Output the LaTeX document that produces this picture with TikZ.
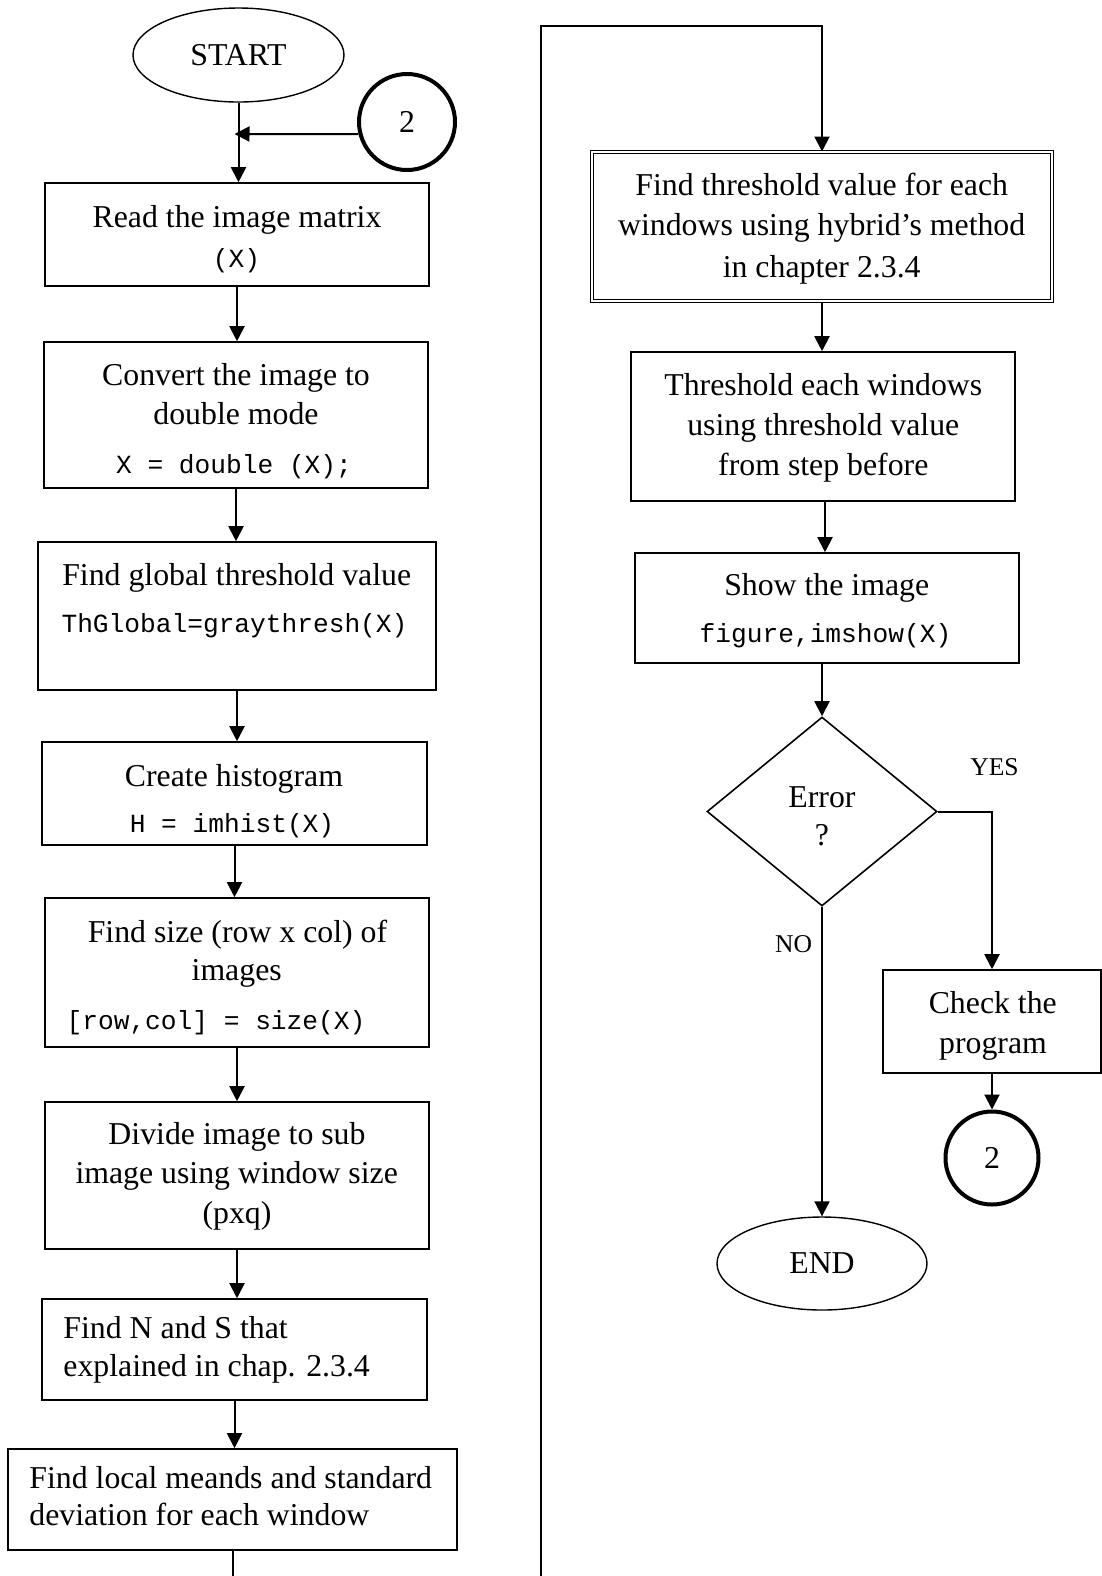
\documentclass[tikz,border=0pt]{standalone}
\usepackage{fontspec}
\setmainfont{Liberation Serif}
\setmonofont{Liberation Mono}
\usetikzlibrary{shapes.geometric,arrows.meta}

\newcommand\mainsz{\fontsize{15.9pt}{19.75pt}\selectfont}
\newcommand\codesz{\fontsize{13.1pt}{16pt}\selectfont\ttfamily}
\newcommand\lblsz{\fontsize{12.8pt}{15pt}\selectfont}

\tikzset{
  proc/.style={draw, line width=0.8pt, rectangle, inner sep=0pt},
  term/.style={draw, line width=0.7pt, ellipse, inner sep=0pt, font=\mainsz},
  conn/.style={draw, line width=2pt, circle, inner sep=0pt, font=\mainsz},
  decide/.style={draw, line width=0.8pt, diamond, inner sep=0pt},
  txt/.style={anchor=base, inner sep=0pt, font=\mainsz},
  ltxt/.style={anchor=base west, inner sep=0pt, font=\mainsz},
  code/.style={anchor=base, inner sep=0pt, font=\codesz},
  lbl/.style={anchor=base, inner sep=0pt, font=\lblsz},
  flow/.style={line width=1pt, -{Triangle[length=7.5pt,width=7.5pt]}},
  wire/.style={line width=1pt},
}

\begin{document}
\begin{tikzpicture}[x=0.5pt, y=-0.5pt]
\useasboundingbox (0,0) rectangle (1102,1576);

% ---------- left column ----------
\node[term, minimum width=105.5pt, minimum height=47pt] (start) at (238.5,55) {START};
\node[conn, minimum size=48pt] (c1) at (407,122) {2};

\node[proc, minimum width=192pt, minimum height=51.5pt] (b1) at (237,234.5) {};
\node[txt] (b1a) at (237,227) {Read the image matrix};
\node[code] (b1b) at (236.5,267) {(X)};

\node[proc, minimum width=192pt, minimum height=73pt] (b2) at (236,415) {};
\node[txt] (b2a) at (236,385) {Convert the image to};
\node[txt] (b2b) at (236,424) {double mode};
\node[code] (b2c) at (234,473) {X = double (X);};

\node[proc, minimum width=199pt, minimum height=74pt] (b3) at (237,616) {};
\node[txt] (b3a) at (236.7,585) {Find global threshold value};
\node[code] (b3b) at (234.5,632) {ThGlobal=graythresh(X)};

\node[proc, minimum width=192.5pt, minimum height=51.5pt] (b4) at (234.5,793.5) {};
\node[txt] (b4a) at (234,786) {Create histogram};
\node[code] (b4b) at (232,832) {H = imhist(X)};

\node[proc, minimum width=192pt, minimum height=74.5pt] (b5) at (237,972.5) {};
\node[txt] (b5a) at (237.5,942) {Find size (row x col) of};
\node[txt] (b5b) at (236.7,980) {images};
\node[code] (b5c) at (216,1029) {[row,col] = size(X)};

\node[proc, minimum width=192pt, minimum height=73.5pt] (b6) at (237,1175.5) {};
\node[txt] (b6a) at (237,1144) {Divide image to sub};
\node[txt] (b6b) at (236.7,1183) {image using window size};
\node[txt] (b6c) at (237,1223) {(pxq)};

\node[proc, minimum width=192.5pt, minimum height=50.5pt] (b7) at (234.5,1349.5) {};
\node[ltxt] (b7a) at (63,1338) {Find N and S that};
\node[ltxt] (b7b) at (63,1376) {explained in chap. 2.3.4};

\node[proc, minimum width=224.5pt, minimum height=50.5pt] (b8) at (232.5,1499.5) {};
\node[ltxt] (b8a) at (29,1488) {Find local meands and standard};
\node[ltxt] (b8b) at (29,1525) {deviation for each window};

% ---------- right column ----------
\node[proc, double, double distance=1.2pt, line width=0.5pt,
      minimum width=230pt, minimum height=74.5pt] (b9) at (822,226.5) {};
\node[txt] (b9a) at (821.7,195) {Find threshold value for each};
\node[txt] (b9b) at (821.7,235) {windows using hybrid’s method};
\node[txt] (b9c) at (821.7,277) {in chapter 2.3.4};

\node[proc, minimum width=192pt, minimum height=74.5pt] (b10) at (823,426.5) {};
\node[txt] (b10a) at (823.3,395) {Threshold each windows};
\node[txt] (b10b) at (823.3,435) {using threshold value};
\node[txt] (b10c) at (823.3,475) {from step before};

\node[proc, minimum width=192pt, minimum height=55pt] (b11) at (827,608) {};
\node[txt] (b11a) at (826.7,595) {Show the image};
\node[code] (b11b) at (825.5,642) {figure,imshow(X)};

\node[decide, minimum width=115pt, minimum height=94.5pt] (dec) at (822,811.5) {};
\node[txt] (deca) at (822,807) {Error};
\node[txt] (decb) at (822,845) {?};

\node[lbl] (yes) at (994.5,775) {YES};
\node[lbl] (no) at (793.5,952) {NO};

\node[proc, minimum width=109pt, minimum height=51.5pt] (b12) at (992,1021.5) {};
\node[txt] (b12a) at (992.8,1013) {Check the};
\node[txt] (b12b) at (993,1053) {program};

\node[conn, minimum size=46.5pt] (c2) at (992,1158) {2};
\node[term, minimum width=105pt, minimum height=46.5pt] (end) at (822,1263.5) {END};

% ---------- connectors ----------
\coordinate (jn) at (238.5,134);
\draw[wire] (start.south) -- (jn);
\draw[flow] (jn) -- (jn |- b1.north);
\draw[flow] (c1.194) -- ([xshift=-2pt]jn);

\draw[flow] (b1.south) -- (b1.south |- b2.north);
\draw[flow] (b2.south) -- (b2.south |- b3.north);
\draw[flow] (b3.south) -- (b3.south |- b4.north);
\draw[flow] (b4.south) -- (b4.south |- b5.north);
\draw[flow] (b5.south) -- (b5.south |- b6.north);
\draw[flow] (b6.south) -- (b6.south |- b7.north);
\draw[flow] (b7.south) -- (b7.south |- b8.north);

\coordinate (tailL) at (232.5,1576);
\draw[wire] (b8.south) -- (tailL);

\coordinate (tailR) at (541,1576);
\coordinate (topR) at (541,26);
\draw[flow] (tailR) -- (topR) -- (topR -| b9.north) -- (b9.north);

\coordinate (mid10) at (825,0);
\draw[flow] (b9.south) -- (b9.south |- b10.north);
\draw[flow] (b10.south -| mid10) -- (mid10 |- b11.north);
\draw[flow] (dec.north |- b11.south) -- (dec.north);
\draw[flow] (dec.east) -- (dec.east -| b12.north) -- (b12.north);
\draw[flow] (dec.south) -- (end.north);
\draw[flow] (b12.south) -- (c2.north);
\end{tikzpicture}
\end{document}
